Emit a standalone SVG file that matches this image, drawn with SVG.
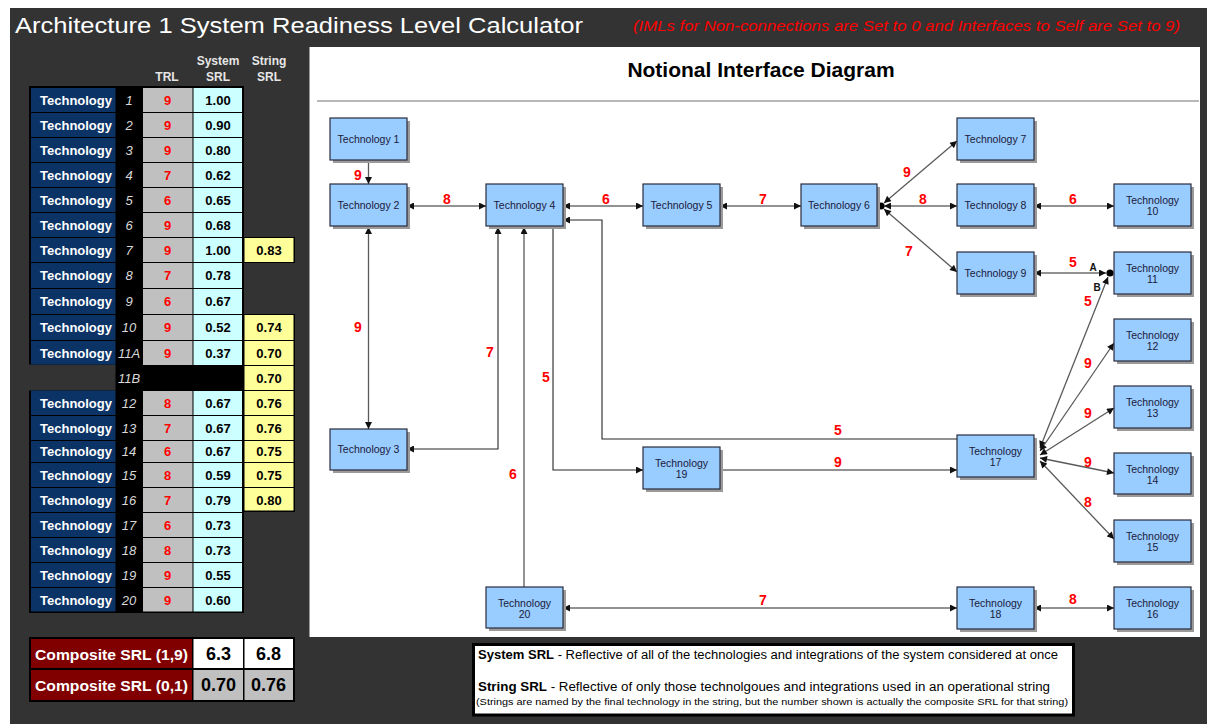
<svg xmlns="http://www.w3.org/2000/svg" width="1207" height="724" viewBox="0 0 1207 724">
<style>
text{font-family:"Liberation Sans",Arial,sans-serif}
.hdr{fill:#e6e6e6;font-size:12px;font-weight:bold;text-anchor:middle}
.tech{fill:#0b3366}
.techt{fill:#ffffff;font-size:13px;font-weight:bold}
.num{fill:#d9d9d9;font-size:13px;font-style:italic;text-anchor:middle}
.trl{fill:#c0c0c0}
.srl{fill:#ccffff}
.str{fill:#ffff99}
.trlt{fill:#ff0000;font-size:13px;font-weight:bold;text-anchor:middle}
.valt{fill:#000000;font-size:13px;font-weight:bold;text-anchor:middle}
.sh{fill:#9a9a9a}
.box{fill:#99ccff;stroke:#2b2b3b;stroke-width:1.2}
.nt{fill:#1a1a3a;font-size:10.5px;text-anchor:middle}
.c{fill:none;stroke:#262626;stroke-width:1.1}
.g{fill:none;stroke:#5a5a5a;stroke-width:1.3}
.lab{fill:#ff0000;font-size:14px;font-weight:bold;text-anchor:middle}
.ab{fill:#111;font-size:10px;font-weight:bold;text-anchor:middle}
.comp{fill:#ffffff;font-size:15px;font-weight:bold}
.compv{fill:#000;font-size:18px;font-weight:bold;text-anchor:middle}
</style>
<defs>
<marker id="ah" viewBox="0 0 10 10" refX="10" refY="5" markerWidth="8" markerHeight="7" markerUnits="userSpaceOnUse" orient="auto-start-reverse">
<path d="M0,0 L10,5 L0,10 z" fill="#111"/>
</marker>
</defs>
<rect x="0" y="0" width="1207" height="724" fill="#ffffff"/>
<rect x="10" y="8" width="1197" height="716" fill="#333333"/>
<text x="15" y="33" font-size="22" fill="#ffffff" textLength="568" lengthAdjust="spacingAndGlyphs">Architecture 1 System Readiness Level Calculator</text>
<text x="633" y="31" font-size="15" font-style="italic" fill="#ff0000" textLength="547" lengthAdjust="spacingAndGlyphs">(IMLs for Non-connections are Set to 0 and Interfaces to Self are Set to 9)</text>

<g id="table-headers">
<text class="hdr" x="167" y="81">TRL</text>
<text class="hdr" x="218" y="65">System</text>
<text class="hdr" x="218" y="81">SRL</text>
<text class="hdr" x="269" y="65">String</text>
<text class="hdr" x="269" y="81">SRL</text>
</g>

<g id="srl-table">
<rect x="29" y="86" width="215" height="527" fill="#000"/>
<rect x="243" y="237" width="52" height="26" fill="#000"/>
<rect x="243" y="314" width="52" height="198" fill="#000"/>
<rect x="26" y="364.5" width="89.5" height="26" fill="#333333"/>
<g id="row1"><rect class="tech" x="31" y="88" width="84.5" height="24"/><rect class="trl" x="143" y="88" width="49.5" height="24"/><rect class="srl" x="193.5" y="88" width="48.5" height="24"/>
<text class="techt" x="40" y="104.5">Technology</text><text class="num" x="129" y="104.5">1</text><text class="trlt" x="167.5" y="104.5">9</text><text class="valt" x="218" y="104.5">1.00</text></g>
<g id="row2"><rect class="tech" x="31" y="113" width="84.5" height="24"/><rect class="trl" x="143" y="113" width="49.5" height="24"/><rect class="srl" x="193.5" y="113" width="48.5" height="24"/>
<text class="techt" x="40" y="129.5">Technology</text><text class="num" x="129" y="129.5">2</text><text class="trlt" x="167.5" y="129.5">9</text><text class="valt" x="218" y="129.5">0.90</text></g>
<g id="row3"><rect class="tech" x="31" y="138" width="84.5" height="24"/><rect class="trl" x="143" y="138" width="49.5" height="24"/><rect class="srl" x="193.5" y="138" width="48.5" height="24"/>
<text class="techt" x="40" y="154.5">Technology</text><text class="num" x="129" y="154.5">3</text><text class="trlt" x="167.5" y="154.5">9</text><text class="valt" x="218" y="154.5">0.80</text></g>
<g id="row4"><rect class="tech" x="31" y="163" width="84.5" height="24"/><rect class="trl" x="143" y="163" width="49.5" height="24"/><rect class="srl" x="193.5" y="163" width="48.5" height="24"/>
<text class="techt" x="40" y="179.5">Technology</text><text class="num" x="129" y="179.5">4</text><text class="trlt" x="167.5" y="179.5">7</text><text class="valt" x="218" y="179.5">0.62</text></g>
<g id="row5"><rect class="tech" x="31" y="188" width="84.5" height="24"/><rect class="trl" x="143" y="188" width="49.5" height="24"/><rect class="srl" x="193.5" y="188" width="48.5" height="24"/>
<text class="techt" x="40" y="204.5">Technology</text><text class="num" x="129" y="204.5">5</text><text class="trlt" x="167.5" y="204.5">6</text><text class="valt" x="218" y="204.5">0.65</text></g>
<g id="row6"><rect class="tech" x="31" y="213" width="84.5" height="24"/><rect class="trl" x="143" y="213" width="49.5" height="24"/><rect class="srl" x="193.5" y="213" width="48.5" height="24"/>
<text class="techt" x="40" y="229.5">Technology</text><text class="num" x="129" y="229.5">6</text><text class="trlt" x="167.5" y="229.5">9</text><text class="valt" x="218" y="229.5">0.68</text></g>
<g id="row7"><rect class="tech" x="31" y="238" width="84.5" height="24"/><rect class="trl" x="143" y="238" width="49.5" height="24"/><rect class="srl" x="193.5" y="238" width="48.5" height="24"/><rect class="str" x="244.5" y="238" width="49" height="24"/>
<text class="techt" x="40" y="254.5">Technology</text><text class="num" x="129" y="254.5">7</text><text class="trlt" x="167.5" y="254.5">9</text><text class="valt" x="218" y="254.5">1.00</text><text class="valt" x="269" y="254.5">0.83</text></g>
<g id="row8"><rect class="tech" x="31" y="263" width="84.5" height="25"/><rect class="trl" x="143" y="263" width="49.5" height="25"/><rect class="srl" x="193.5" y="263" width="48.5" height="25"/>
<text class="techt" x="40" y="280">Technology</text><text class="num" x="129" y="280">8</text><text class="trlt" x="167.5" y="280">7</text><text class="valt" x="218" y="280">0.78</text></g>
<g id="row9"><rect class="tech" x="31" y="289" width="84.5" height="25"/><rect class="trl" x="143" y="289" width="49.5" height="25"/><rect class="srl" x="193.5" y="289" width="48.5" height="25"/>
<text class="techt" x="40" y="306">Technology</text><text class="num" x="129" y="306">9</text><text class="trlt" x="167.5" y="306">6</text><text class="valt" x="218" y="306">0.67</text></g>
<g id="row10"><rect class="tech" x="31" y="315" width="84.5" height="25"/><rect class="trl" x="143" y="315" width="49.5" height="25"/><rect class="srl" x="193.5" y="315" width="48.5" height="25"/><rect class="str" x="244.5" y="315" width="49" height="25"/>
<text class="techt" x="40" y="332">Technology</text><text class="num" x="129" y="332">10</text><text class="trlt" x="167.5" y="332">9</text><text class="valt" x="218" y="332">0.52</text><text class="valt" x="269" y="332">0.74</text></g>
<g id="row11A"><rect class="tech" x="31" y="341" width="84.5" height="23.5"/><rect class="trl" x="143" y="341" width="49.5" height="24"/><rect class="srl" x="193.5" y="341" width="48.5" height="24"/><rect class="str" x="244.5" y="341" width="49" height="24"/>
<text class="techt" x="40" y="357.5">Technology</text><text class="num" x="129" y="357.5">11A</text><text class="trlt" x="167.5" y="357.5">9</text><text class="valt" x="218" y="357.5">0.37</text><text class="valt" x="269" y="357.5">0.70</text></g>
<g id="row11B"><rect class="str" x="244.5" y="366" width="49" height="24"/>
<text class="num" x="129" y="382.5">11B</text><text class="valt" x="269" y="382.5">0.70</text></g>
<g id="row12"><rect class="tech" x="31" y="390.5" width="84.5" height="24.5"/><rect class="trl" x="143" y="391" width="49.5" height="24"/><rect class="srl" x="193.5" y="391" width="48.5" height="24"/><rect class="str" x="244.5" y="391" width="49" height="24"/>
<text class="techt" x="40" y="407.5">Technology</text><text class="num" x="129" y="407.5">12</text><text class="trlt" x="167.5" y="407.5">8</text><text class="valt" x="218" y="407.5">0.67</text><text class="valt" x="269" y="407.5">0.76</text></g>
<g id="row13"><rect class="tech" x="31" y="416" width="84.5" height="24"/><rect class="trl" x="143" y="416" width="49.5" height="24"/><rect class="srl" x="193.5" y="416" width="48.5" height="24"/><rect class="str" x="244.5" y="416" width="49" height="24"/>
<text class="techt" x="40" y="432.5">Technology</text><text class="num" x="129" y="432.5">13</text><text class="trlt" x="167.5" y="432.5">7</text><text class="valt" x="218" y="432.5">0.67</text><text class="valt" x="269" y="432.5">0.76</text></g>
<g id="row14"><rect class="tech" x="31" y="441" width="84.5" height="21"/><rect class="trl" x="143" y="441" width="49.5" height="21"/><rect class="srl" x="193.5" y="441" width="48.5" height="21"/><rect class="str" x="244.5" y="441" width="49" height="21"/>
<text class="techt" x="40" y="456">Technology</text><text class="num" x="129" y="456">14</text><text class="trlt" x="167.5" y="456">6</text><text class="valt" x="218" y="456">0.67</text><text class="valt" x="269" y="456">0.75</text></g>
<g id="row15"><rect class="tech" x="31" y="463" width="84.5" height="24"/><rect class="trl" x="143" y="463" width="49.5" height="24"/><rect class="srl" x="193.5" y="463" width="48.5" height="24"/><rect class="str" x="244.5" y="463" width="49" height="24"/>
<text class="techt" x="40" y="479.5">Technology</text><text class="num" x="129" y="479.5">15</text><text class="trlt" x="167.5" y="479.5">8</text><text class="valt" x="218" y="479.5">0.59</text><text class="valt" x="269" y="479.5">0.75</text></g>
<g id="row16"><rect class="tech" x="31" y="488" width="84.5" height="24"/><rect class="trl" x="143" y="488" width="49.5" height="24"/><rect class="srl" x="193.5" y="488" width="48.5" height="24"/><rect class="str" x="244.5" y="488" width="49" height="22.5"/>
<text class="techt" x="40" y="504.5">Technology</text><text class="num" x="129" y="504.5">16</text><text class="trlt" x="167.5" y="504.5">7</text><text class="valt" x="218" y="504.5">0.79</text><text class="valt" x="269" y="504.5">0.80</text></g>
<g id="row17"><rect class="tech" x="31" y="513" width="84.5" height="24"/><rect class="trl" x="143" y="513" width="49.5" height="24"/><rect class="srl" x="193.5" y="513" width="48.5" height="24"/>
<text class="techt" x="40" y="529.5">Technology</text><text class="num" x="129" y="529.5">17</text><text class="trlt" x="167.5" y="529.5">6</text><text class="valt" x="218" y="529.5">0.73</text></g>
<g id="row18"><rect class="tech" x="31" y="538" width="84.5" height="24"/><rect class="trl" x="143" y="538" width="49.5" height="24"/><rect class="srl" x="193.5" y="538" width="48.5" height="24"/>
<text class="techt" x="40" y="554.5">Technology</text><text class="num" x="129" y="554.5">18</text><text class="trlt" x="167.5" y="554.5">8</text><text class="valt" x="218" y="554.5">0.73</text></g>
<g id="row19"><rect class="tech" x="31" y="563" width="84.5" height="24"/><rect class="trl" x="143" y="563" width="49.5" height="24"/><rect class="srl" x="193.5" y="563" width="48.5" height="24"/>
<text class="techt" x="40" y="579.5">Technology</text><text class="num" x="129" y="579.5">19</text><text class="trlt" x="167.5" y="579.5">9</text><text class="valt" x="218" y="579.5">0.55</text></g>
<g id="row20"><rect class="tech" x="31" y="588" width="84.5" height="23.5"/><rect class="trl" x="143" y="588" width="49.5" height="23.5"/><rect class="srl" x="193.5" y="588" width="48.5" height="23.5"/>
<text class="techt" x="40" y="604.5">Technology</text><text class="num" x="129" y="604.5">20</text><text class="trlt" x="167.5" y="604.5">9</text><text class="valt" x="218" y="604.5">0.60</text></g>
</g>

<g id="composite">
<rect x="29" y="637" width="266" height="65" fill="#000"/>
<rect x="31" y="639" width="161" height="29" fill="#800000"/>
<rect x="193.5" y="639" width="49.5" height="29" fill="#ffffff"/>
<rect x="244.5" y="639" width="48.5" height="29" fill="#ffffff"/>
<rect x="31" y="670" width="161" height="30" fill="#800000"/>
<rect x="193.5" y="670" width="49.5" height="30" fill="#c0c0c0"/>
<rect x="244.5" y="670" width="48.5" height="30" fill="#c0c0c0"/>
<text class="comp" x="35" y="659.5" textLength="153" lengthAdjust="spacingAndGlyphs">Composite SRL (1,9)</text>
<text class="comp" x="35" y="690.5" textLength="153" lengthAdjust="spacingAndGlyphs">Composite SRL (0,1)</text>
<text class="compv" x="218.5" y="660">6.3</text>
<text class="compv" x="268.5" y="660">6.8</text>
<text class="compv" x="218.5" y="691">0.70</text>
<text class="compv" x="268.5" y="691">0.76</text>
</g>

<g id="legend">
<rect x="473.5" y="644.5" width="600" height="70.5" fill="#ffffff" stroke="#000" stroke-width="3"/>
<text x="478" y="658.5" font-size="12" fill="#000" textLength="580" lengthAdjust="spacingAndGlyphs"><tspan font-weight="bold">System SRL</tspan> - Reflective of all of the technologies and integrations of the system considered at once</text>
<text x="478" y="690.5" font-size="12.5" fill="#000" textLength="572" lengthAdjust="spacingAndGlyphs"><tspan font-weight="bold">String SRL</tspan> - Reflective of only those technolgoues and integrations used in an operational string</text>
<text x="476" y="705" font-size="9.5" fill="#000" textLength="592" lengthAdjust="spacingAndGlyphs">(Strings are named by the final technology in the string, but the number shown is actually the composite SRL for that string)</text>
</g>

<rect x="309.5" y="47" width="890.5" height="590" fill="#ffffff"/>
<text x="761" y="77" font-size="21" font-weight="bold" fill="#000" text-anchor="middle">Notional Interface Diagram</text>
<line x1="317" y1="101" x2="1199" y2="101" stroke="#a0a0a0" stroke-width="1.3"/>

<g id="connectors">
<path class="g" d="M368.5,161 V184" marker-end="url(#ah)"/>
<path class="c" d="M407,206 H486" marker-start="url(#ah)" marker-end="url(#ah)"/>
<path class="c" d="M563,206 H643" marker-start="url(#ah)" marker-end="url(#ah)"/>
<path class="c" d="M720,206 H801" marker-start="url(#ah)" marker-end="url(#ah)"/>
<path class="c" d="M877,206 H881"/>
<path class="c" d="M884,206 H957" marker-start="url(#ah)" marker-end="url(#ah)"/>
<path class="g" d="M884,203 L957,141" marker-start="url(#ah)" marker-end="url(#ah)"/>
<path class="g" d="M884,209 L957,272" marker-start="url(#ah)" marker-end="url(#ah)"/>
<circle cx="881" cy="206" r="3.6" fill="#000"/>
<path class="c" d="M1034,206 H1114" marker-start="url(#ah)" marker-end="url(#ah)"/>
<path class="c" d="M1034,273 H1106" marker-start="url(#ah)" marker-end="url(#ah)"/>
<circle cx="1110" cy="273" r="3.6" fill="#000"/>
<path class="g" d="M1040,448 L1108,277" marker-start="url(#ah)" marker-end="url(#ah)"/>
<path class="g" d="M1040,451 L1114,343" marker-start="url(#ah)" marker-end="url(#ah)"/>
<path class="g" d="M1040,455 L1114,408" marker-start="url(#ah)" marker-end="url(#ah)"/>
<path class="g" d="M1040,458 L1114,473" marker-start="url(#ah)" marker-end="url(#ah)"/>
<path class="g" d="M1040,461 L1114,539" marker-start="url(#ah)" marker-end="url(#ah)"/>
<path class="g" d="M368.5,227 V429" marker-start="url(#ah)" marker-end="url(#ah)"/>
<path class="c" d="M407,449 H498 V227" marker-start="url(#ah)" marker-end="url(#ah)"/>
<path class="g" d="M524,587 V227" marker-end="url(#ah)"/>
<path class="c" d="M553,227 V470 H643" marker-end="url(#ah)"/>
<path class="c" d="M720,470 H957" marker-end="url(#ah)"/>
<path class="c" d="M957,439 H602 V220 H563" marker-end="url(#ah)"/>
<path class="c" d="M563,608 H957" marker-start="url(#ah)" marker-end="url(#ah)"/>
<path class="c" d="M1034,608 H1114" marker-start="url(#ah)" marker-end="url(#ah)"/>
<text class="lab" x="358" y="180">9</text>
<text class="lab" x="447" y="204">8</text>
<text class="lab" x="606" y="204">6</text>
<text class="lab" x="763" y="204">7</text>
<text class="lab" x="907" y="177">9</text>
<text class="lab" x="923" y="204">8</text>
<text class="lab" x="909" y="256">7</text>
<text class="lab" x="1073" y="204">6</text>
<text class="lab" x="1073" y="267">5</text>
<text class="ab" x="1093" y="271">A</text>
<text class="ab" x="1097" y="291">B</text>
<text class="lab" x="1088" y="306">5</text>
<text class="lab" x="358" y="332">9</text>
<text class="lab" x="490" y="357">7</text>
<text class="lab" x="546" y="382">5</text>
<text class="lab" x="513" y="479">6</text>
<text class="lab" x="838" y="435">5</text>
<text class="lab" x="838" y="467">9</text>
<text class="lab" x="1088" y="368">9</text>
<text class="lab" x="1088" y="418">9</text>
<text class="lab" x="1088" y="467">9</text>
<text class="lab" x="1088" y="507">8</text>
<text class="lab" x="763" y="605">7</text>
<text class="lab" x="1073" y="604">8</text>
</g>

<g id="tech1"><rect class="sh" x="333" y="121" width="77" height="42"/><rect class="box" x="330" y="118" width="77" height="42"/><text class="nt" x="368.5" y="143">Technology 1</text></g>
<g id="tech2"><rect class="sh" x="333" y="187" width="77" height="42"/><rect class="box" x="330" y="184" width="77" height="42"/><text class="nt" x="368.5" y="209">Technology 2</text></g>
<g id="tech3"><rect class="sh" x="333" y="432" width="77" height="41"/><rect class="box" x="330" y="429" width="77" height="41"/><text class="nt" x="368.5" y="453">Technology 3</text></g>
<g id="tech4"><rect class="sh" x="489" y="187" width="77" height="42"/><rect class="box" x="486" y="184" width="77" height="42"/><text class="nt" x="524.5" y="209">Technology 4</text></g>
<g id="tech5"><rect class="sh" x="646" y="187" width="77" height="42"/><rect class="box" x="643" y="184" width="77" height="42"/><text class="nt" x="681.5" y="209">Technology 5</text></g>
<g id="tech6"><rect class="sh" x="804" y="187" width="76" height="42"/><rect class="box" x="801" y="184" width="76" height="42"/><text class="nt" x="839" y="209">Technology 6</text></g>
<g id="tech7"><rect class="sh" x="960" y="121" width="77" height="42"/><rect class="box" x="957" y="118" width="77" height="42"/><text class="nt" x="995.5" y="143">Technology 7</text></g>
<g id="tech8"><rect class="sh" x="960" y="187" width="77" height="42"/><rect class="box" x="957" y="184" width="77" height="42"/><text class="nt" x="995.5" y="209">Technology 8</text></g>
<g id="tech9"><rect class="sh" x="960" y="255" width="77" height="42"/><rect class="box" x="957" y="252" width="77" height="42"/><text class="nt" x="995.5" y="277">Technology 9</text></g>
<g id="tech10"><rect class="sh" x="1117" y="187" width="77" height="42"/><rect class="box" x="1114" y="184" width="77" height="42"/><text class="nt" x="1152.5" y="204">Technology</text><text class="nt" x="1152.5" y="215">10</text></g>
<g id="tech11"><rect class="sh" x="1117" y="255" width="77" height="42"/><rect class="box" x="1114" y="252" width="77" height="42"/><text class="nt" x="1152.5" y="272">Technology</text><text class="nt" x="1152.5" y="283">11</text></g>
<g id="tech12"><rect class="sh" x="1117" y="322" width="77" height="42"/><rect class="box" x="1114" y="319" width="77" height="42"/><text class="nt" x="1152.5" y="339">Technology</text><text class="nt" x="1152.5" y="350">12</text></g>
<g id="tech13"><rect class="sh" x="1117" y="389" width="77" height="42"/><rect class="box" x="1114" y="386" width="77" height="42"/><text class="nt" x="1152.5" y="406">Technology</text><text class="nt" x="1152.5" y="417">13</text></g>
<g id="tech14"><rect class="sh" x="1117" y="456" width="77" height="41"/><rect class="box" x="1114" y="453" width="77" height="41"/><text class="nt" x="1152.5" y="473">Technology</text><text class="nt" x="1152.5" y="484">14</text></g>
<g id="tech15"><rect class="sh" x="1117" y="523" width="77" height="42"/><rect class="box" x="1114" y="520" width="77" height="42"/><text class="nt" x="1152.5" y="540">Technology</text><text class="nt" x="1152.5" y="551">15</text></g>
<g id="tech16"><rect class="sh" x="1117" y="590" width="77" height="42"/><rect class="box" x="1114" y="587" width="77" height="42"/><text class="nt" x="1152.5" y="607">Technology</text><text class="nt" x="1152.5" y="618">16</text></g>
<g id="tech17"><rect class="sh" x="960" y="438" width="77" height="42"/><rect class="box" x="957" y="435" width="77" height="42"/><text class="nt" x="995.5" y="455">Technology</text><text class="nt" x="995.5" y="466">17</text></g>
<g id="tech18"><rect class="sh" x="960" y="590" width="77" height="42"/><rect class="box" x="957" y="587" width="77" height="42"/><text class="nt" x="995.5" y="607">Technology</text><text class="nt" x="995.5" y="618">18</text></g>
<g id="tech19"><rect class="sh" x="646" y="450" width="77" height="42"/><rect class="box" x="643" y="447" width="77" height="42"/><text class="nt" x="681.5" y="467">Technology</text><text class="nt" x="681.5" y="478">19</text></g>
<g id="tech20"><rect class="sh" x="489" y="590" width="77" height="41"/><rect class="box" x="486" y="587" width="77" height="41"/><text class="nt" x="524.5" y="607">Technology</text><text class="nt" x="524.5" y="618">20</text></g>
</svg>
